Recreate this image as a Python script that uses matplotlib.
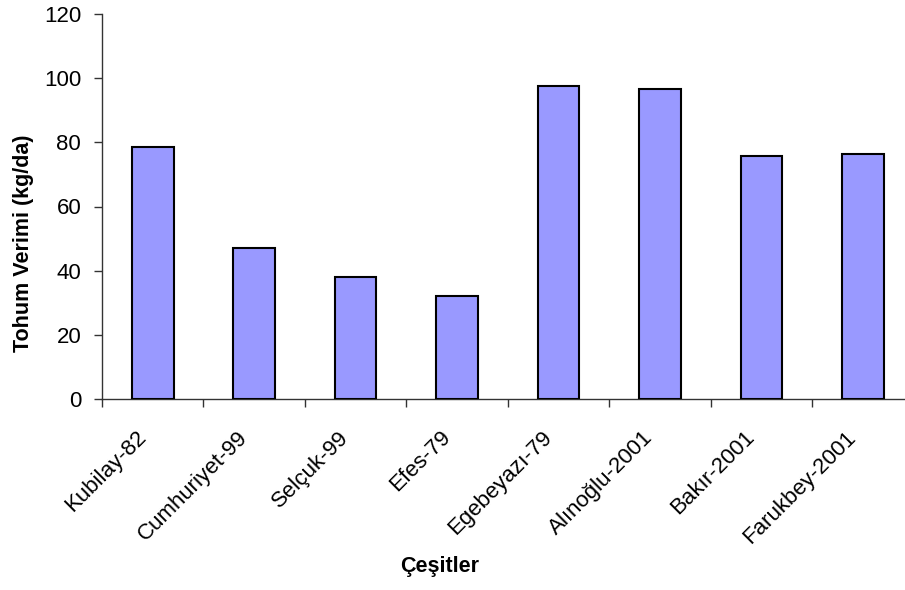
import matplotlib.pyplot as plt
from matplotlib.transforms import ScaledTranslation

# Seed yield by variety
cesitler = ['Kubilay-82', 'Cumhuriyet-99', 'Selçuk-99', 'Efes-79',
            'Egebeyazı-79', 'Alınoğlu-2001', 'Bakır-2001', 'Farukbey-2001']
verim = [78.6, 47.1, 38.2, 32.1, 97.4, 96.6, 75.8, 76.4]

plt.rcParams['font.family'] = ['Liberation Sans', 'DejaVu Sans']

fig = plt.figure(figsize=(9.05, 5.9), dpi=100)
ax = fig.add_axes([0.1127, 0.3229, 0.8969, 0.6542])

x = range(len(cesitler))
ax.bar(x, verim, width=0.41, color='#9999FF', edgecolor='black', linewidth=1.5, zorder=3)

ax.set_xlim(-0.5, len(cesitler) - 0.5)
ax.set_ylim(0, 120)
ax.set_yticks(range(0, 121, 20))

# tick marks sit between categories, names under the bar centres
ax.set_xticks([i - 0.5 for i in range(len(cesitler))])
ax.set_xticklabels([])
ax.set_xticks(list(x), minor=True)
ax.set_xticklabels(cesitler, minor=True, rotation=45, ha='right', va='center',
                   rotation_mode='anchor', fontsize=16)
ax.tick_params(axis='x', which='minor', length=0, pad=25)
ax.tick_params(axis='x', which='major', length=6, width=1, color='#333333')
ax.tick_params(axis='y', labelsize=16, length=6, width=1, color='#333333', pad=9)

# nudge the slanted names a little to the left
shift = ScaledTranslation(-0.10, 0, fig.dpi_scale_trans)
for lbl in ax.get_xticklabels(minor=True):
    lbl.set_transform(lbl.get_transform() + shift)

for s in ['top', 'right']:
    ax.spines[s].set_visible(False)
for s in ['left', 'bottom']:
    ax.spines[s].set_color('#333333')
    ax.spines[s].set_linewidth(1)

fig.text(0.0265, 0.587, 'Tohum Verimi (kg/da)', fontsize=15.5, fontweight='bold',
         rotation=90, ha='center', va='center')
fig.text(0.486, 0.039, 'Çeşitler', fontsize=15.5, fontweight='bold', ha='center', va='center')

fig.savefig('out.png', dpi=100)
